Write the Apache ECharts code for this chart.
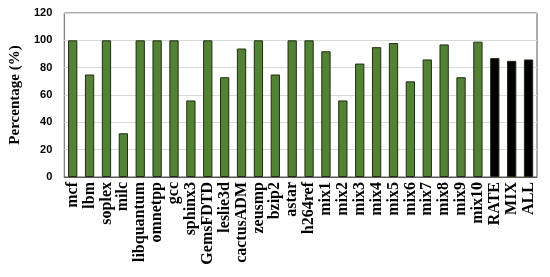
<!DOCTYPE html>
<html>
<head>
<meta charset="utf-8">
<script src="https://cdn.jsdelivr.net/npm/echarts@6/dist/echarts.min.js"></script>
<style>
html, body { margin: 0; padding: 0; background: #fff; }
#chart { width: 550px; height: 277px; }
</style>
</head>
<body>
<div id="chart"></div>
<script>
const categories = ['mcf', 'lbm', 'soplex', 'milc', 'libquantum', 'omnetpp', 'gcc', 'sphinx3',
    'GemsFDTD', 'leslie3d', 'cactusADM', 'zeusmp', 'bzip2', 'astar', 'h264ref',
    'mix1', 'mix2', 'mix3', 'mix4', 'mix5', 'mix6', 'mix7', 'mix8', 'mix9', 'mix10',
    'RATE', 'MIX', 'ALL'];
const values = [100, 75, 100, 32, 100, 100, 100, 56, 100, 73, 94, 100, 75, 100, 100,
    92, 56, 83, 95, 98, 70, 86, 97, 73, 99, 87, 85, 86];
const summaryNames = ['RATE', 'MIX', 'ALL'];
const yTicks = [0, 20, 40, 60, 80, 100, 120];

let myChart = echarts.init(document.getElementById('chart'));
myChart.setOption({
    animation: false,
    grid: {
        left: 58,
        right: 13,
        top: 13,
        bottom: 100,
        show: true,
        borderColor: '#595959',
        borderWidth: 1
    },
    xAxis: {
        type: 'category',
        data: categories,
        axisTick: { show: false },
        axisLine: { lineStyle: { color: '#595959' } },
        axisLabel: {
            rotate: 90,
            interval: 0,
            margin: 5,
            color: '#000',
            fontFamily: 'Liberation Serif',
            fontWeight: 'bold',
            fontSize: 16
        }
    },
    yAxis: {
        type: 'value',
        min: yTicks[0],
        max: yTicks[yTicks.length - 1],
        interval: 20,
        name: 'Percentage (%)',
        nameLocation: 'middle',
        nameGap: 33,
        nameTextStyle: {
            fontFamily: 'Liberation Serif',
            fontWeight: 'bold',
            fontSize: 15,
            color: '#000'
        },
        axisLine: { show: false },
        axisTick: { show: false },
        axisLabel: {
            color: '#000',
            fontFamily: 'Liberation Sans',
            fontWeight: 'bold',
            fontSize: 11,
            margin: 12
        },
        splitLine: { lineStyle: { color: '#d9d9d9' } }
    },
    series: [{
        type: 'bar',
        barWidth: '55%',
        data: values.map((v, i) => {
            const isSummary = summaryNames.indexOf(categories[i]) >= 0;
            return {
                value: v,
                itemStyle: {
                    color: isSummary ? '#000' : '#548235',
                    borderColor: '#1f2d12',
                    borderWidth: 1
                }
            };
        })
    }]
});
</script>
</body>
</html>
